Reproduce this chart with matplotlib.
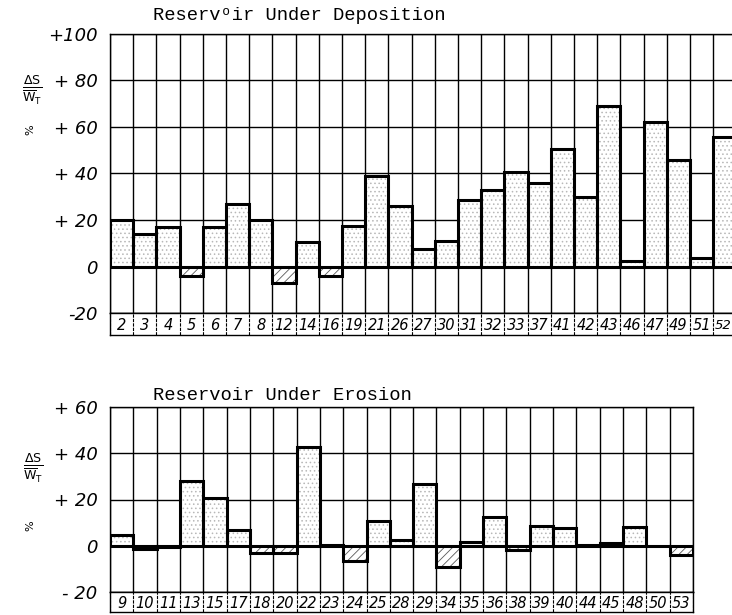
import matplotlib.pyplot as plt
import numpy as np

# reservoir numbers and change in storage (%)
dep_sites = ['2', '3', '4', '5', '6', '7', '8', '12', '14', '16', '19', '21', '26', '27',
             '30', '31', '32', '33', '37', '41', '42', '43', '46', '47', '49', '51', '52']
dep_values = [20, 14, 17, -4, 17, 27, 20, -7, 10.5, -4, 17.5, 39, 26, 7.5,
              11, 28.5, 33, 40.5, 36, 50.5, 30, 69, 2.5, 62, 46, 3.5, 55.5]

ero_sites = ['9', '10', '11', '13', '15', '17', '18', '20', '22', '23', '24', '25', '28',
             '29', '34', '35', '36', '38', '39', '40', '44', '45', '48', '50', '53']
ero_values = [4.5, -1.5, -0.5, 28, 20.5, 7, -3, -3, 42.5, 0.5, -6.5, 10.5, 2.5,
              26.5, -9, 1.5, 12.5, -2, 8.5, 7.5, 0.5, 1, 8, 0, -4]

dep_ticks = [-20, 0, 20, 40, 60, 80, 100]
dep_ticklabels = ['-20', '0', '+ 20', '+ 40', '+ 60', '+ 80', '+100']
ero_ticks = [-20, 0, 20, 40, 60]
ero_ticklabels = ['- 20', '0', '+ 20', '+ 40', '+ 60']

W, H = 732, 615
fig = plt.figure(figsize=(W / 100, H / 100), dpi=100)
fig.patch.set_facecolor('white')
plt.rcParams['hatch.linewidth'] = 0.6

hand = dict(family='DejaVu Sans', style='italic')


def px(x0, y0, x1, y1):
    # pixel box (top-left origin) -> figure fraction rect
    return [x0 / W, 1 - y1 / H, (x1 - x0) / W, (y1 - y0) / H]


def panel(rect, lab_rect, sites, values, ylim, ticks, ticklabels):
    n = len(sites)
    x = np.arange(n)
    vals = np.array(values, dtype=float)
    edges = np.arange(n + 1) - 0.5

    ax = fig.add_axes(rect)
    ax.set_xlim(-0.5, n - 0.5)
    ax.set_ylim(*ylim)
    ax.set_axisbelow(True)
    ax.set_xticks(edges)
    ax.set_xticklabels([])
    ax.set_yticks(ticks)
    ax.set_yticklabels(ticklabels, fontsize=13, **hand)
    ax.tick_params(length=0, pad=9)
    ax.grid(True, color='black', lw=1.0)
    for s in ax.spines.values():
        s.set_linewidth(1.0)

    pos = vals >= 0
    # stippled fill for positive bars, hatched for negative ones
    ax.bar(x[pos], vals[pos], width=1, color='white', edgecolor='0.72',
           hatch='....', lw=0, zorder=2)
    ax.bar(x[~pos], vals[~pos], width=1, color='white', edgecolor='0.35',
           hatch='////', lw=0, zorder=2)
    ax.bar(x, vals, width=1, facecolor='none', edgecolor='black', lw=2.2, zorder=3)
    ax.axhline(0, color='black', lw=1.2, zorder=4)

    lab = fig.add_axes(lab_rect)
    lab.set_xlim(-0.5, n - 0.5)
    lab.set_ylim(0, 1)
    lab.set_xticks(edges)
    lab.set_xticklabels([])
    lab.set_yticks([])
    lab.tick_params(length=0)
    lab.grid(True, axis='x', color='black', lw=0.8, ls=(0, (3, 1)))
    for s in lab.spines.values():
        s.set_linewidth(1.0)
    # last cell runs off the page: start its label at the cell's left edge
    right_px = (lab_rect[0] + lab_rect[2]) * W
    for i, s in enumerate(sites):
        if right_px > W and i == n - 1:
            lab.text(i - 0.45, 0.45, s, ha='left', va='center', fontsize=9.5, **hand)
        else:
            lab.text(i, 0.45, s, ha='center', va='center', fontsize=10.5, **hand)
    return ax


panel(px(110, 34, 736.4, 313), px(110, 313, 736.4, 335),
      dep_sites, dep_values, (-20, 100), dep_ticks, dep_ticklabels)
panel(px(110, 407, 693, 592), px(110, 592, 693, 612),
      ero_sites, ero_values, (-20, 60), ero_ticks, ero_ticklabels)

mono = dict(family='Liberation Mono', fontsize=13.5)
fig.text(153 / W, 1 - 15 / H, 'Reserv\u1d52ir Under Deposition', ha='left', va='center', **mono)
fig.text(153 / W, 1 - 395 / H, 'Reservoir Under Erosion', ha='left', va='center', **mono)

ylab = r'$\frac{\Delta \mathrm{S}}{\overline{\mathrm{W}}_{\mathrm{T}}}$'
fig.text(32 / W, 1 - 90 / H, ylab, ha='center', va='center', fontsize=13, family='DejaVu Serif')
fig.text(30 / W, 1 - 130 / H, '%', ha='center', va='center', fontsize=8, rotation=90)
fig.text(33 / W, 1 - 468 / H, ylab, ha='center', va='center', fontsize=13, family='DejaVu Serif')
fig.text(30 / W, 1 - 526 / H, '%', ha='center', va='center', fontsize=8, rotation=90)

fig.savefig('out.png', dpi=100, facecolor='white')
